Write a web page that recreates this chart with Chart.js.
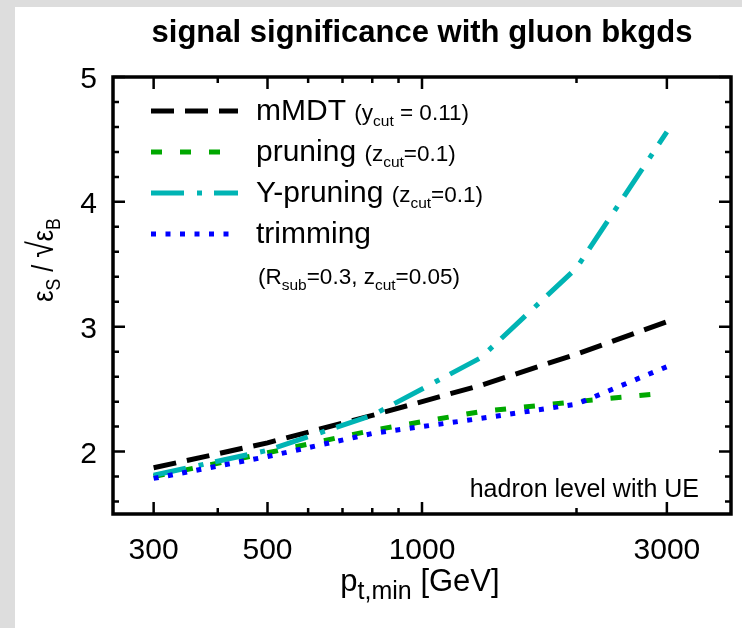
<!DOCTYPE html>
<html>
<head>
<meta charset="utf-8">
<script src="https://cdn.jsdelivr.net/npm/chart.js@4.4.1/dist/chart.umd.min.js"></script>
<style>
  html, body { margin: 0; padding: 0; background: #ffffff; }
  #wrap { width: 742px; height: 628px; }
</style>
</head>
<body>
<div id="wrap"><canvas id="c" width="742" height="628"></canvas></div>
<script>
// ---- data ----
const ptMin     = [300, 500, 800, 1300, 2000, 3000];
const mMDT      = [1.87, 2.07, 2.29, 2.53, 2.78, 3.04];
const pruning   = [1.80, 1.99, 2.17, 2.32, 2.40, 2.47];
const yPruning  = [1.81, 2.01, 2.29, 2.75, 3.47, 4.56];
const trimming  = [1.785, 1.96, 2.145, 2.265, 2.38, 2.68];

const xTickLabels = [300, 500, 1000, 3000];
const xMinorTicks = [400, 600, 700, 800, 900, 2000];
const yTickLabels = [2, 3, 4, 5];
const yMinorTicks = [1.6, 1.8, 2.2, 2.4, 2.6, 2.8, 3.2, 3.4, 3.6, 3.8, 4.2, 4.4, 4.6, 4.8];

const titleText = 'signal significance with gluon bkgds';
const noteText = 'hadron level with UE';

const FONT = '"Liberation Sans", Arial, Helvetica, sans-serif';
const SX = 1.0;

function pts(arr) { return ptMin.map((x, i) => ({ x: x, y: arr[i] })); }

function drawRuns(ctx, runs, x, y, align, sx, bold) {
  ctx.save();
  let widths = runs.map(r => {
    ctx.font = (bold ? 'bold ' : '') + r.size + 'px ' + FONT;
    return ctx.measureText(r.t).width;
  });
  const total = widths.reduce((a, b) => a + b, 0) * sx;
  let start = x;
  if (align === 'center') start = x - total / 2;
  else if (align === 'right') start = x - total;
  ctx.translate(start, y);
  ctx.scale(sx, 1);
  ctx.fillStyle = '#000';
  ctx.textAlign = 'left';
  ctx.textBaseline = 'alphabetic';
  let cx = 0;
  runs.forEach((r, i) => {
    ctx.font = (bold ? 'bold ' : '') + r.size + 'px ' + FONT;
    ctx.fillText(r.t, cx, r.dy || 0);
    cx += widths[i];
  });
  ctx.restore();
}

const series = [
  { label: 'mMDT', data: mMDT, color: '#000000', dash: [23, 11], order: 4,
    legend: [{t:'mMDT ', size:30}, {t:'(y', size:22.5}, {t:'cut', size:15.5, dy:6}, {t:' = 0.11)', size:22.5}] },
  { label: 'pruning', data: pruning, color: '#00a800', dash: [11, 18], order: 3,
    legend: [{t:'pruning ', size:30}, {t:'(z', size:22.5}, {t:'cut', size:15.5, dy:6}, {t:'=0.1)', size:22.5}] },
  { label: 'Y-pruning', data: yPruning, color: '#00b4b4', dash: [33, 13, 5, 12], order: 2,
    legend: [{t:'Y-pruning ', size:30}, {t:'(z', size:22.5}, {t:'cut', size:15.5, dy:6}, {t:'=0.1)', size:22.5}] },
  { label: 'trimming', data: trimming, color: '#0000ff', dash: [5, 9.5], order: 1,
    legend: [{t:'trimming', size:30}] }
];

const framePlugin = {
  id: 'frame',
  beforeDraw(chart) {
    const ctx = chart.ctx;
    ctx.save();
    ctx.fillStyle = '#dddddd';
    ctx.fillRect(0, 0, chart.width, chart.height);
    ctx.fillStyle = '#ffffff';
    ctx.fillRect(15, 7, chart.width - 15, chart.height - 7);
    ctx.restore();
  },
  afterDraw(chart) {
    const ctx = chart.ctx;
    const a = chart.chartArea;
    const xs = chart.scales.x, ys = chart.scales.y;
    ctx.save();
    ctx.strokeStyle = '#000';
    ctx.lineWidth = 3.5;
    ctx.strokeRect(a.left, a.top, a.right - a.left, a.bottom - a.top);
    ctx.lineWidth = 2.5;
    ctx.beginPath();
    const tick = (vals, len, horiz) => {
      vals.forEach(v => {
        if (horiz) {
          const px = xs.getPixelForValue(v);
          ctx.moveTo(px, a.bottom); ctx.lineTo(px, a.bottom - len);
          ctx.moveTo(px, a.top); ctx.lineTo(px, a.top + len);
        } else {
          const py = ys.getPixelForValue(v);
          ctx.moveTo(a.left, py); ctx.lineTo(a.left + len, py);
          ctx.moveTo(a.right, py); ctx.lineTo(a.right - len, py);
        }
      });
    };
    tick(xTickLabels, 12, true);
    tick(xMinorTicks, 6, true);
    tick(yTickLabels, 12, false);
    tick(yMinorTicks, 6, false);
    ctx.stroke();
    ctx.restore();

    // tick labels
    xTickLabels.forEach(v => {
      drawRuns(ctx, [{t: String(v), size: 30}], xs.getPixelForValue(v), 559, 'center', SX);
    });
    yTickLabels.forEach(v => {
      drawRuns(ctx, [{t: String(v), size: 30}], 97, ys.getPixelForValue(v) + 11, 'right', SX);
    });

    // title
    drawRuns(ctx, [{t: titleText, size: 31}], 422, 42, 'center', SX, true);

    // x axis title
    drawRuns(ctx, [{t:'p', size:31}, {t:'t,min', size:25, dy:8}, {t:' [GeV]', size:31}], 420, 591, 'center', SX);

    // y axis title (rotated)
    ctx.save();
    ctx.translate(53, 260);
    ctx.rotate(-Math.PI / 2);
    drawRuns(ctx, [{t:'\u03B5', size:30}, {t:'S', size:21, dy:7}, {t:' / ', size:30}, {t:'\u221A', size:36}, {t:'\u03B5', size:30}, {t:'B', size:21, dy:7}], 0, 0, 'center', 0.84);
    ctx.restore();

    // note
    drawRuns(ctx, [{t: noteText, size: 25}], 699, 497, 'right', SX);

    // legend
    const rowBase = [120, 161, 202, 243];
    series.forEach((s, i) => {
      const yLine = rowBase[i] - 9;
      ctx.save();
      ctx.strokeStyle = s.color;
      ctx.lineWidth = 5;
      ctx.lineCap = 'butt';
      ctx.setLineDash(s.dash);
      ctx.beginPath();
      ctx.moveTo(151, yLine);
      ctx.lineTo(238, yLine);
      ctx.stroke();
      ctx.restore();
      drawRuns(ctx, s.legend, 256, rowBase[i], 'left', SX);
    });
    drawRuns(ctx, [{t:'(R', size:22.5}, {t:'sub', size:15.5, dy:6}, {t:'=0.3, z', size:22.5}, {t:'cut', size:15.5, dy:6}, {t:'=0.05)', size:22.5}], 258, 284, 'left', SX);
  }
};

new Chart(document.getElementById('c'), {
  type: 'line',
  data: {
    datasets: series.map(s => ({
      label: s.label,
      data: pts(s.data),
      borderColor: s.color,
      backgroundColor: s.color,
      borderWidth: 5,
      borderDash: s.dash,
      borderCapStyle: 'butt',
      pointRadius: 0,
      tension: 0,
      fill: false,
      order: s.order
    }))
  },
  options: {
    responsive: false,
    animation: false,
    devicePixelRatio: 1,
    layout: { padding: { left: 113, top: 77, right: 11, bottom: 114 } },
    plugins: { legend: { display: false }, title: { display: false }, tooltip: { enabled: false } },
    scales: {
      x: { type: 'logarithmic', min: 250, max: 4000, display: false },
      y: { type: 'linear', min: 1.5, max: 5, display: false }
    }
  },
  plugins: [framePlugin]
});
</script>
</body>
</html>
